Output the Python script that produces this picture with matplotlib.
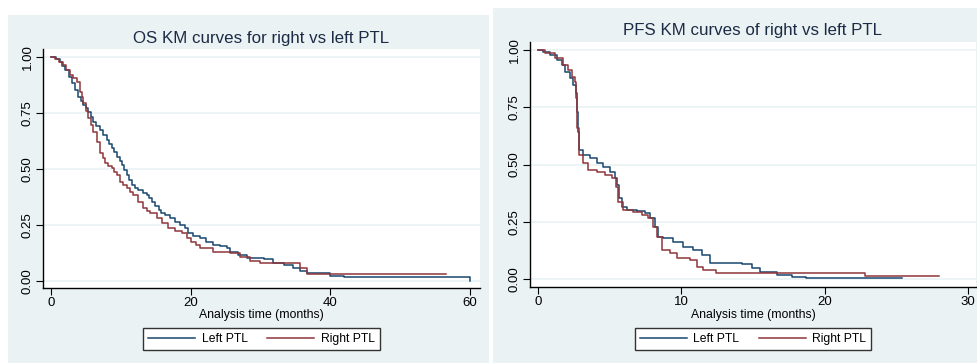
import matplotlib
matplotlib.use("Agg")
import numpy as np
from matplotlib import pyplot as plt
from matplotlib.patches import Rectangle

plt.rcParams['font.family'] = ['Liberation Sans', 'DejaVu Sans']

# overall survival, step points (months, survival)
os_left_t = [0, 0.1, 0.7, 1.29, 1.6, 2.0, 2.5, 2.96, 3.4, 3.9, 4.3, 4.63, 5.0, 5.35, 5.7, 6.06,
             6.5, 7.0, 7.5, 7.97, 8.3, 8.69, 9.0, 9.4, 9.8, 10.1, 10.5, 10.84, 11.2, 11.55,
             12.0, 12.5, 13.1, 13.7, 14.0, 14.4, 14.9, 15.4, 15.8, 16.3, 17.0, 17.8, 18.5,
             19.2, 19.6, 20.3, 21.3, 22.2, 23.2, 24.2, 25.2, 25.6, 26.8, 28.0, 30.5, 31.8,
             33.3, 34.7, 35.6, 36.6, 40.0, 41.9, 60.0]
os_left_s = [1.0, 0.999, 0.99, 0.979, 0.96, 0.942, 0.912, 0.882, 0.852, 0.823, 0.805, 0.786,
             0.771, 0.756, 0.733, 0.711, 0.692, 0.674, 0.651, 0.629, 0.61, 0.592, 0.574, 0.555,
             0.537, 0.518, 0.495, 0.473, 0.451, 0.429, 0.417, 0.406, 0.395, 0.384, 0.369,
             0.354, 0.335, 0.317, 0.306, 0.295, 0.28, 0.265, 0.25, 0.235, 0.213, 0.2, 0.19,
             0.175, 0.161, 0.155, 0.146, 0.13, 0.115, 0.101, 0.097, 0.079, 0.072, 0.057,
             0.045, 0.034, 0.022, 0.016, 0.0]

os_right_t = [0, 0.6, 1.2, 1.77, 2.2, 2.72, 3.2, 3.68, 4.15, 4.4, 4.63, 5.0, 5.35, 5.7, 6.06,
              6.54, 7.0, 7.4, 7.73, 8.2, 8.69, 9.0, 9.4, 9.88, 10.3, 10.84, 11.3, 11.79, 12.5,
              13.2, 13.7, 14.2, 15.1, 15.85, 16.8, 17.7, 18.7, 19.4, 20.1, 20.7, 21.3, 23.2,
              25.6, 27.1, 28.5, 29.9, 35.7, 36.6, 56.5]
os_right_s = [1.0, 0.99, 0.98, 0.964, 0.942, 0.92, 0.905, 0.89, 0.845, 0.82, 0.793, 0.76,
              0.726, 0.697, 0.667, 0.622, 0.57, 0.548, 0.525, 0.514, 0.503, 0.488, 0.473,
              0.443, 0.428, 0.414, 0.399, 0.384, 0.354, 0.325, 0.313, 0.302, 0.28, 0.258,
              0.235, 0.224, 0.213, 0.194, 0.175, 0.16, 0.146, 0.128, 0.125, 0.108, 0.091,
              0.079, 0.057, 0.031, 0.031]

# progression-free survival
pfs_left_t = [0, 0.37, 0.84, 1.3, 1.65, 1.88, 2.23, 2.46, 2.63, 2.7, 2.77, 2.88, 3.16, 3.63,
              4.1, 4.56, 5.02, 5.37, 5.53, 5.63, 5.84, 6.19, 6.89, 7.47, 7.82, 8.16, 8.4, 8.74,
              9.44, 10.14, 10.84, 11.42, 12.0, 14.2, 14.9, 15.5, 16.7, 17.7, 18.7, 25.4]
pfs_left_s = [1.0, 0.993, 0.978, 0.956, 0.934, 0.905, 0.876, 0.847, 0.811, 0.731, 0.643,
              0.563, 0.541, 0.527, 0.505, 0.49, 0.468, 0.44, 0.41, 0.352, 0.316, 0.301, 0.298,
              0.287, 0.265, 0.228, 0.185, 0.178, 0.163, 0.141, 0.127, 0.105, 0.069, 0.065,
              0.047, 0.032, 0.017, 0.01, 0.003, 0.003]

pfs_right_t = [0, 0.49, 1.19, 1.77, 2.12, 2.35, 2.58, 2.65, 2.74, 2.88, 3.16, 3.51, 4.1, 4.68,
               5.14, 5.44, 5.6, 5.95, 6.65, 7.24, 7.7, 8.05, 8.28, 8.63, 9.21, 9.68, 10.6,
               11.07, 11.5, 12.4, 22.8, 28.0]
pfs_right_s = [1.0, 0.986, 0.964, 0.934, 0.913, 0.883, 0.862, 0.789, 0.658, 0.541, 0.505,
               0.476, 0.468, 0.454, 0.44, 0.403, 0.338, 0.301, 0.294, 0.279, 0.265, 0.228,
               0.185, 0.127, 0.112, 0.09, 0.083, 0.054, 0.039, 0.027, 0.013, 0.013]

yticks = [0, 0.25, 0.5, 0.75, 1.0]
yticklabels = ["0.00", "0.25", "0.50", "0.75", "1.00"]

W, H = 978, 363
navy = '#1a476f'
maroon = '#90353b'
bg = '#eaf2f3'
title_c = '#1c2b45'

fig = plt.figure(figsize=(W / 100, H / 100), dpi=100)


def px_rect(x0, y0, x1, y1):
    # pixel box (top-left origin) -> figure fraction [l, b, w, h]
    return [x0 / W, (H - y1) / H, (x1 - x0) / W, (y1 - y0) / H]


def panel(box, ax_box, xlim, ylim, xticks, t1, s1, t2, s2, title, title_y):
    l, b, w, h = px_rect(*box)
    fig.patches.append(Rectangle((l, b), w, h, transform=fig.transFigure,
                                 facecolor=bg, edgecolor='none', zorder=-10))
    ax = fig.add_axes(px_rect(*ax_box))
    ax.set_facecolor('white')
    for y in yticks:
        ax.axhline(y, color=bg, lw=1.2, zorder=0)
    ax.step(t1, s1, where='post', color=navy, lw=1.1, label='Left PTL')
    ax.step(t2, s2, where='post', color=maroon, lw=1.1, label='Right PTL')
    ax.set_xlim(*xlim)
    ax.set_ylim(*ylim)
    ax.set_xticks(xticks)
    ax.set_yticks(yticks)
    ax.set_yticklabels(yticklabels, rotation=90, va='center')
    ax.tick_params(labelsize=9.5, length=5, width=0.8, colors='black', direction='out', pad=1.5)
    ax.spines['right'].set_visible(False)
    ax.spines['top'].set_visible(False)
    ax.spines['left'].set_linewidth(1.0)
    ax.spines['bottom'].set_linewidth(1.0)
    cx = (ax_box[0] + ax_box[2]) / 2 / W
    fig.text(cx, (H - title_y) / H, title, ha='center', va='center', fontsize=12.2, color=title_c)
    fig.text(cx, (H - 315) / H, "Analysis time (months)", ha='center', va='center', fontsize=8.8)
    leg = ax.legend(loc='upper center', bbox_to_anchor=(0.5, -0.168), ncol=2, fontsize=8.7,
                    frameon=True, fancybox=False, edgecolor='#333333', framealpha=1,
                    handlelength=3.9, columnspacing=1.6, borderpad=0.4, handletextpad=0.55,
                    borderaxespad=0)
    leg.get_frame().set_linewidth(1.0)
    return ax


panel((8, 15, 489, 363), (43, 49, 480, 288), (-1.15, 61.4), (-0.031, 1.036), [0, 20, 40, 60],
      os_left_t, os_left_s, os_right_t, os_right_s, "OS KM curves for right vs left PTL", 38)
panel((493, 8, 978, 363), (530, 42, 976, 287), (-0.56, 30.56), (-0.035, 1.035), [0, 10, 20, 30],
      pfs_left_t, pfs_left_s, pfs_right_t, pfs_right_s, "PFS KM curves of right vs left PTL", 31)

fig.savefig("out.png", dpi=100)
